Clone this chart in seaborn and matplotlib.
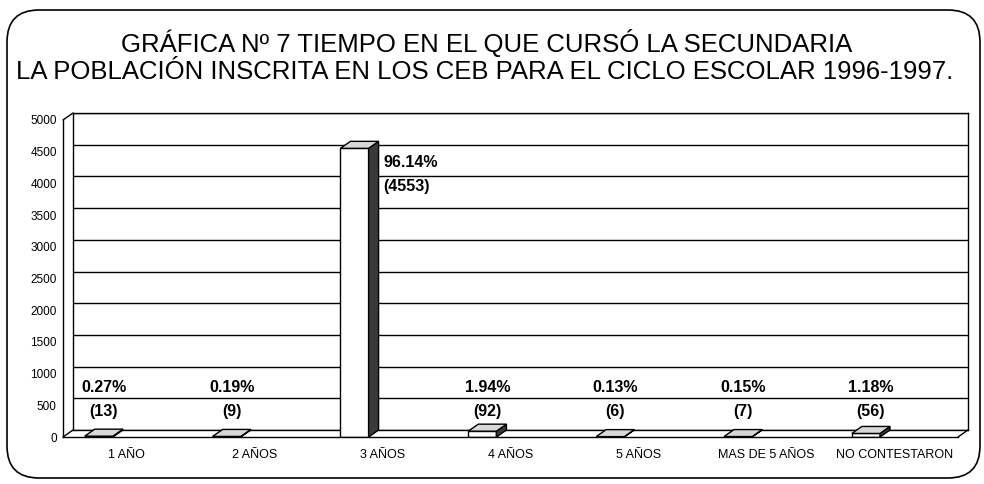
import matplotlib
matplotlib.use('Agg')
import matplotlib.pyplot as plt
from matplotlib.patches import Polygon, FancyBboxPatch
from matplotlib.lines import Line2D
import seaborn as sns
import pandas as pd
import numpy as np

# data
categorias = ['1 AÑO', '2 AÑOS', '3 AÑOS', '4 AÑOS', '5 AÑOS', 'MAS DE 5 AÑOS', 'NO CONTESTARON']
alumnos = [13, 9, 4553, 92, 6, 7, 56]
porcentajes = [0.27, 0.19, 96.14, 1.94, 0.13, 0.15, 1.18]
yticks = list(range(0, 5001, 500))

titulo1 = 'GRÁFICA Nº 7 TIEMPO EN EL QUE CURSÓ LA SECUNDARIA'
titulo2 = 'LA POBLACIÓN INSCRITA EN LOS CEB PARA EL CICLO ESCOLAR 1996-1997.'

df = pd.DataFrame({'cat': categorias, 'n': alumnos})

sns.set_style('white')
plt.rcParams['font.family'] = ['Liberation Sans', 'DejaVu Sans']
plt.rcParams['text.color'] = 'black'
plt.rcParams['xtick.color'] = 'black'
plt.rcParams['ytick.color'] = 'black'

W, H = 984, 484
fig = plt.figure(figsize=(W / 100, H / 100), dpi=100)

def px(x0, y0, x1, y1):
    return [x0 / W, 1 - y1 / H, (x1 - x0) / W, (y1 - y0) / H]

# back wall (grid) and front plane (axis, bars)
ax_back = fig.add_axes(px(73, 113, 968, 430))
ax = fig.add_axes(px(63, 120, 958, 437))

for a in (ax_back, ax):
    a.set_xlim(-0.5, len(categorias) - 0.5)
    a.set_ylim(0, 5000)

ax_back.set_yticks(yticks)
ax_back.grid(axis='y', color='black', lw=1.0)
ax_back.set_xticks([])
ax_back.tick_params(left=False, labelleft=False)
for s in ax_back.spines.values():
    s.set_color('black')
    s.set_linewidth(1.0)

ax.patch.set_alpha(0)
sns.barplot(data=df, x='cat', y='n', color='white', edgecolor='black',
            linewidth=1.0, width=0.22, saturation=1, ax=ax)
ax.set_xlim(-0.5, len(categorias) - 0.5)
ax.set_ylim(0, 5000)
for s in ['top', 'right']:
    ax.spines[s].set_visible(False)
for s in ['left', 'bottom']:
    ax.spines[s].set_color('black')
    ax.spines[s].set_linewidth(1.0)

ax.set_yticks(yticks)
ax.set_yticklabels([str(t) for t in yticks], fontsize=8.5)
ax.tick_params(axis='y', direction='out', length=3, width=1, pad=1.5)
ax.set_xticks(range(len(categorias)))
ax.set_xticklabels(categorias, fontsize=9)
ax.set_xticks(np.arange(-0.5, len(categorias), 1.0), minor=True)
ax.tick_params(axis='x', which='major', length=0, pad=9)
ax.tick_params(axis='x', which='minor', direction='out', length=3, width=1)
ax.set_xlabel('')
ax.set_ylabel('')

# 3d depth in data units
fig.canvas.draw()
inv = ax.transData.inverted()
o = inv.transform((0, 0))
d = inv.transform((10, 7))
ddx, ddy = d[0] - o[0], d[1] - o[1]

for p, v, pc in zip(ax.patches, alumnos, porcentajes):
    p.set_x(p.get_x() - 0.22)
    x0 = p.get_x()
    x1 = x0 + p.get_width()
    h = p.get_height()
    top = Polygon([(x0, h), (x1, h), (x1 + ddx, h + ddy), (x0 + ddx, h + ddy)],
                  closed=True, fc='#d8d8d8', ec='black', lw=1.0, zorder=3)
    side = Polygon([(x1, 0), (x1, h), (x1 + ddx, h + ddy), (x1 + ddx, ddy)],
                   closed=True, fc='#3a3a3a', ec='black', lw=1.0, zorder=3)
    ax.add_patch(side)
    ax.add_patch(top)
    xc = (x0 + x1 + ddx) / 2
    lbl = '%.2f%%\n(%d)' % (pc, v)
    if v + 700 > 5000:
        ax.text(x1 + ddx + 0.04, v - 410, lbl, ha='left', va='center',
                fontsize=11.5, fontweight='bold', linespacing=1.75, zorder=5)
    else:
        ax.text(xc, 585, lbl, ha='center', va='center',
                fontsize=11.5, fontweight='bold', linespacing=1.75, zorder=5)

# floor edges joining front and back planes
for (xa, ya), (xb, yb) in [((63, 437), (73, 430)), ((63, 120), (73, 113)),
                           ((958, 437), (968, 430))]:
    fig.add_artist(Line2D([xa / W, xb / W], [1 - ya / H, 1 - yb / H],
                          transform=fig.transFigure, color='black', lw=1.0))

# rounded outer frame
frame = FancyBboxPatch((0.07, 0.06), 9.73, 4.68, boxstyle='round,pad=0,rounding_size=0.32',
                       transform=fig.dpi_scale_trans, fc='none', ec='black', lw=1.2)
fig.add_artist(frame)

fig.text(487 / W, 1 - 43 / H, titulo1, ha='center', va='center', fontsize=18.5)
fig.text(485 / W, 1 - 72 / H, titulo2, ha='center', va='center', fontsize=18.5)

plt.savefig('out.png', dpi=100)
